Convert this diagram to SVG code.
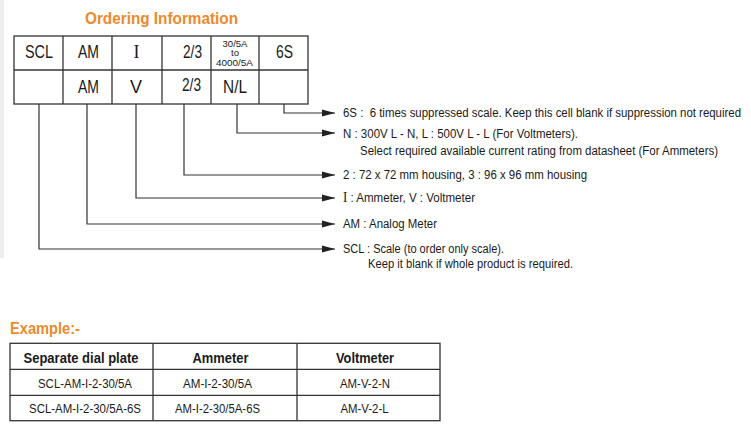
<svg xmlns="http://www.w3.org/2000/svg" width="751" height="432" viewBox="0 0 751 432">
<defs>
<style>
.t{font-family:"Liberation Sans",Arial,sans-serif;fill:#1a1a1a}
.c{font-size:18px}
.s{font-size:9.5px}
.l{font-size:12.5px}
.hd{font-family:"Liberation Sans",Arial,sans-serif;font-weight:bold;fill:#EC8A2C}
.b{font-weight:bold;font-size:14px}
.ser{font-family:"Liberation Serif","Times New Roman",serif;fill:#1a1a1a}
.grid{fill:none;stroke:#333;stroke-width:1.3}
.con{fill:none;stroke:#333;stroke-width:1.2}
</style>
<marker id="ar" markerWidth="14" markerHeight="8" refX="13" refY="4" orient="auto" markerUnits="userSpaceOnUse">
<path d="M0,0.5 L13,4 L0,7.5 Z" fill="#222"/>
</marker>
</defs>
<rect width="751" height="432" fill="#fff"/>
<rect x="0" y="0" width="4" height="258" fill="#eeeeee"/>

<g id="title">
<text class="hd" x="85" y="24" font-size="17" textLength="153" lengthAdjust="spacingAndGlyphs">Ordering Information</text>
</g>

<g id="code-table">
<rect class="grid" x="14" y="36" width="294" height="68"/>
<line class="grid" x1="14" y1="70" x2="308" y2="70"/>
<line class="grid" x1="63" y1="36" x2="63" y2="104"/>
<line class="grid" x1="112" y1="36" x2="112" y2="104"/>
<line class="grid" x1="162" y1="36" x2="162" y2="104"/>
<line class="grid" x1="211" y1="36" x2="211" y2="104"/>
<line class="grid" x1="259" y1="36" x2="259" y2="104"/>
<g id="cell-scl"><text class="t c" x="25" y="58" textLength="28" lengthAdjust="spacingAndGlyphs">SCL</text></g>
<g id="cell-am1"><text class="t c" x="78" y="58" textLength="21" lengthAdjust="spacingAndGlyphs">AM</text></g>
<g id="cell-i"><text class="ser c" x="136.5" y="58" text-anchor="middle">I</text></g>
<g id="cell-23a"><text class="t c" x="183" y="58" textLength="19" lengthAdjust="spacingAndGlyphs">2/3</text></g>
<g id="cell-rating">
<text class="t s" x="235" y="46.5" text-anchor="middle" textLength="25" lengthAdjust="spacingAndGlyphs">30/5A</text>
<text class="t s" x="235" y="55.7" text-anchor="middle">to</text>
<text class="t s" x="234.5" y="65.7" text-anchor="middle" textLength="37" lengthAdjust="spacingAndGlyphs">4000/5A</text>
</g>
<g id="cell-6s"><text class="t c" x="276" y="58" textLength="17" lengthAdjust="spacingAndGlyphs">6S</text></g>
<g id="cell-am2"><text class="t c" x="78" y="93" textLength="21" lengthAdjust="spacingAndGlyphs">AM</text></g>
<g id="cell-v"><text class="t c" x="130" y="93" textLength="12" lengthAdjust="spacingAndGlyphs">V</text></g>
<g id="cell-23b"><text class="t c" x="182" y="91" textLength="19" lengthAdjust="spacingAndGlyphs">2/3</text></g>
<g id="cell-nl"><text class="t c" x="223" y="93" textLength="24" lengthAdjust="spacingAndGlyphs">N/L</text></g>
</g>

<g id="connectors">
<polyline class="con" points="284,104 284,113 335,113" marker-end="url(#ar)"/>
<polyline class="con" points="237,104 237,133 335,133" marker-end="url(#ar)"/>
<polyline class="con" points="184,104 184,175 335,175" marker-end="url(#ar)"/>
<polyline class="con" points="136,104 136,198 335,198" marker-end="url(#ar)"/>
<polyline class="con" points="87,104 87,224 335,224" marker-end="url(#ar)"/>
<polyline class="con" points="39,104 39,249 335,249" marker-end="url(#ar)"/>
</g>

<g id="legend-6s"><text class="t l" x="343" y="117" textLength="398" lengthAdjust="spacingAndGlyphs">6S :&#160; 6 times suppressed scale. Keep this cell blank if suppression not required</text></g>
<g id="legend-nl">
<text class="t l" x="343" y="137.5" textLength="235" lengthAdjust="spacingAndGlyphs">N : 300V L - N, L : 500V L - L (For Voltmeters).</text>
<text class="t l" x="360" y="155" textLength="358" lengthAdjust="spacingAndGlyphs">Select required available current rating from datasheet (For Ammeters)</text>
</g>
<g id="legend-23"><text class="t l" x="343" y="179" textLength="244" lengthAdjust="spacingAndGlyphs">2 : 72 x 72 mm housing, 3 : 96 x 96 mm housing</text></g>
<g id="legend-iv"><text class="t l" x="343" y="202" textLength="132" lengthAdjust="spacingAndGlyphs"><tspan class="ser" font-size="14">I</tspan> : Ammeter, V : Voltmeter</text></g>
<g id="legend-am"><text class="t l" x="343" y="228" textLength="94" lengthAdjust="spacingAndGlyphs">AM : Analog Meter</text></g>
<g id="legend-scl">
<text class="t l" x="343" y="253" textLength="161" lengthAdjust="spacingAndGlyphs">SCL : Scale (to order only scale).</text>
<text class="t l" x="368" y="268" textLength="205" lengthAdjust="spacingAndGlyphs">Keep it blank if whole product is required.</text>
</g>

<g id="example-title">
<text class="hd" x="10" y="334.3" font-size="17" textLength="70" lengthAdjust="spacingAndGlyphs">Example:-</text>
</g>

<g id="example-table">
<rect class="grid" x="10" y="343.3" width="430" height="77.4"/>
<line class="grid" x1="10" y1="369.3" x2="440" y2="369.3"/>
<line class="grid" x1="10" y1="395.3" x2="440" y2="395.3"/>
<line class="grid" x1="153" y1="343.3" x2="153" y2="420.7"/>
<line class="grid" x1="297" y1="343.3" x2="297" y2="420.7"/>
<text class="t b" x="81" y="362.7" text-anchor="middle" textLength="115" lengthAdjust="spacingAndGlyphs">Separate dial plate</text>
<text class="t b" x="220.5" y="362.7" text-anchor="middle" textLength="56" lengthAdjust="spacingAndGlyphs">Ammeter</text>
<text class="t b" x="365" y="362.7" text-anchor="middle" textLength="58" lengthAdjust="spacingAndGlyphs">Voltmeter</text>
<text class="t l" x="85" y="388.3" text-anchor="middle" textLength="94" lengthAdjust="spacingAndGlyphs">SCL-AM-I-2-30/5A</text>
<text class="t l" x="217.5" y="388.3" text-anchor="middle" textLength="69" lengthAdjust="spacingAndGlyphs">AM-I-2-30/5A</text>
<text class="t l" x="365" y="388.3" text-anchor="middle" textLength="50" lengthAdjust="spacingAndGlyphs">AM-V-2-N</text>
<text class="t l" x="85" y="413.3" text-anchor="middle" textLength="112" lengthAdjust="spacingAndGlyphs">SCL-AM-I-2-30/5A-6S</text>
<text class="t l" x="217.5" y="413.3" text-anchor="middle" textLength="85" lengthAdjust="spacingAndGlyphs">AM-I-2-30/5A-6S</text>
<text class="t l" x="364.5" y="413.3" text-anchor="middle" textLength="48" lengthAdjust="spacingAndGlyphs">AM-V-2-L</text>
</g>
</svg>
